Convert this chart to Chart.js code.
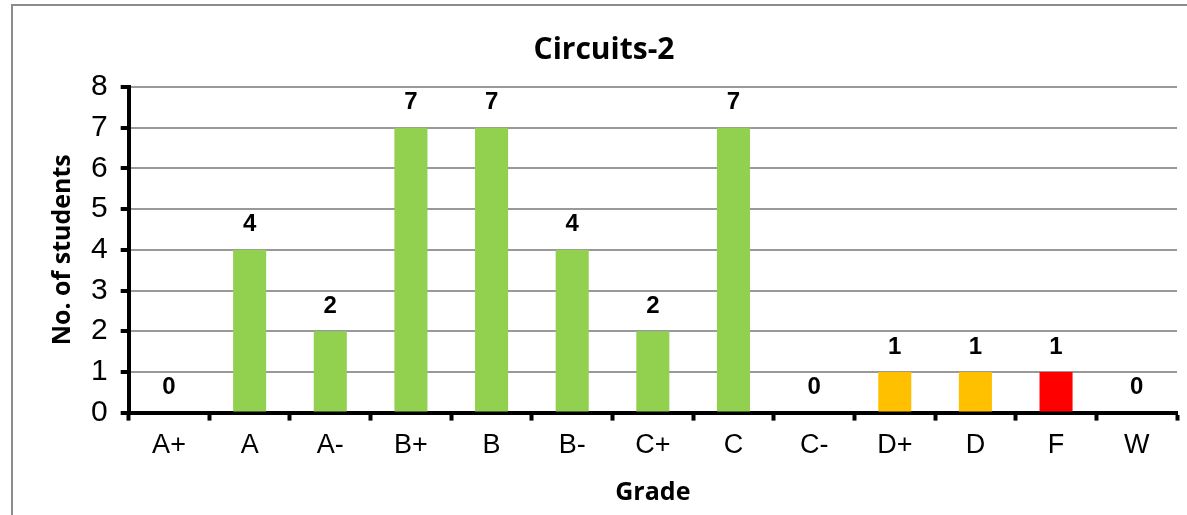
<!DOCTYPE html>
<html>
<head>
<meta charset="utf-8">
<script src="https://cdn.jsdelivr.net/npm/chart.js@4.4.0/dist/chart.umd.min.js"></script>
<style>
    html, body { margin: 0; padding: 0; background: #fff; overflow: hidden; }
    #frame { position: absolute; left: 11px; top: 4px; width: 1200px; height: 600px; border: 2px solid #8c8c8c; }
    #wrap { position: absolute; left: 0; top: 0; width: 1208px; height: 515px; }
</style>
</head>
<body>
<div id="frame"></div>
<div id="wrap"><canvas id="myChart"></canvas></div>
<script>
    // grades and counts
    const grades = ['A+', 'A', 'A-', 'B+', 'B', 'B-', 'C+', 'C', 'C-', 'D+', 'D', 'F', 'W']
    const students = [0, 4, 2, 7, 7, 4, 2, 7, 0, 1, 1, 1, 0]
    const barColors = ['#92D050', '#92D050', '#92D050', '#92D050', '#92D050', '#92D050', '#92D050',
        '#92D050', '#92D050', '#FFC000', '#FFC000', '#FF0000', '#92D050']
    const yTicks = [0, 1, 2, 3, 4, 5, 6, 7, 8]

    // draws the bold value above each bar
    const valueLabels = {
        id: 'valueLabels',
        afterDatasetsDraw(chart) {
            const ctx = chart.ctx
            const meta = chart.getDatasetMeta(0)
            ctx.save()
            ctx.font = 'bold 24px "Liberation Sans", Arial, sans-serif'
            ctx.fillStyle = '#000'
            ctx.textAlign = 'center'
            ctx.textBaseline = 'middle'
            meta.data.forEach(function (bar, i) {
                ctx.fillText(String(students[i]), bar.x, bar.y - 25)
            })
            ctx.restore()
        }
    }

    new Chart(document.getElementById('myChart'), {
        type: 'bar',
        data: {
            labels: grades,
            datasets: [{
                data: students,
                backgroundColor: barColors,
                borderWidth: 0,
                categoryPercentage: 1,
                barPercentage: 0.41
            }]
        },
        options: {
            responsive: true,
            maintainAspectRatio: false,
            animation: false,
            layout: { padding: { left: 0, right: 0, top: 0, bottom: 7 } },
            plugins: {
                legend: { display: false },
                tooltip: { enabled: false },
                title: {
                    display: true,
                    text: 'Circuits-2',
                    color: '#000',
                    font: { family: '"Open Sans", sans-serif', size: 30, weight: 'bold' },
                    padding: { top: 32, bottom: 19 }
                }
            },
            scales: {
                x: {
                    grid: {
                        offset: true,
                        drawOnChartArea: false,
                        drawTicks: true,
                        tickLength: 8,
                        tickWidth: 4,
                        tickColor: '#000'
                    },
                    border: { display: true, color: '#000', width: 4 },
                    ticks: {
                        color: '#000',
                        padding: 9,
                        font: { family: '"Liberation Sans", Arial, sans-serif', size: 27 }
                    },
                    title: {
                        display: true,
                        text: 'Grade',
                        color: '#000',
                        font: { family: '"Open Sans", sans-serif', size: 25, weight: 'bold' },
                        padding: { top: 7, bottom: 0 }
                    }
                },
                y: {
                    min: 0,
                    max: 8,
                    afterBuildTicks(axis) {
                        axis.ticks = yTicks.map(v => ({ value: v }))
                    },
                    grid: {
                        color: '#999',
                        lineWidth: 2,
                        drawTicks: true,
                        tickLength: 8,
                        tickWidth: 4,
                        tickColor: '#000'
                    },
                    border: { display: true, color: '#000', width: 4 },
                    ticks: {
                        color: '#000',
                        padding: 13,
                        font: { family: '"Liberation Sans", Arial, sans-serif', size: 30 }
                    },
                    title: {
                        display: true,
                        text: 'No. of students',
                        color: '#000',
                        font: { family: '"Open Sans", sans-serif', size: 25, weight: 'bold' },
                        padding: { top: 48, bottom: 0 }
                    }
                },
                // empty right-hand axis, only keeps space so the title stays centred on the frame
                yRight: {
                    position: 'right',
                    min: 0,
                    max: 8,
                    grid: { display: false },
                    border: { display: false },
                    ticks: { display: false },
                    afterFit(scale) {
                        scale.width = 31
                    }
                }
            }
        },
        plugins: [valueLabels]
    })
</script>
</body>
</html>
